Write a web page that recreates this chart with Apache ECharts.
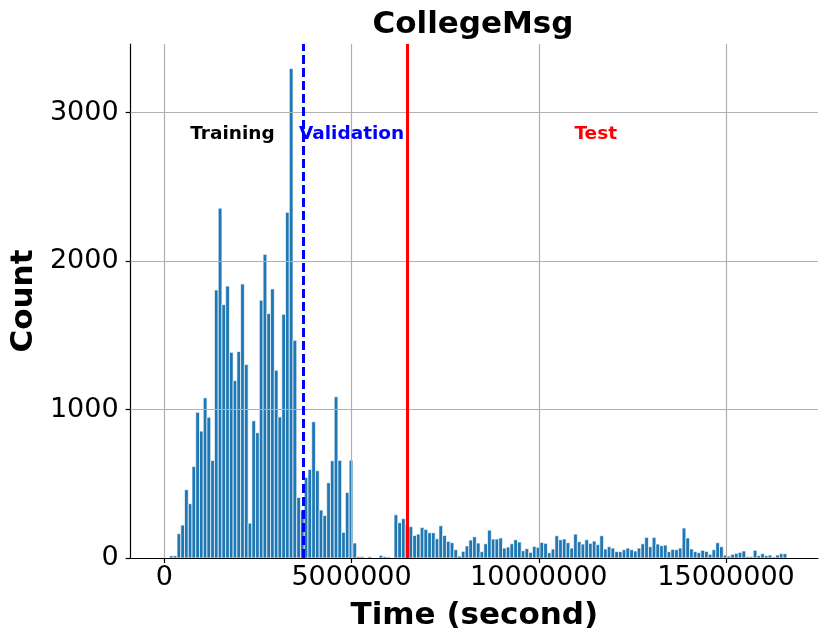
<!DOCTYPE html>
<html>
<head>
<meta charset="utf-8">
<script src="https://cdn.jsdelivr.net/npm/echarts@6/dist/echarts.min.js"></script>
<style>
html,body{margin:0;padding:0;background:#fff;}
#chart{width:830px;height:643px;}
</style>
</head>
<body>
<div id="chart"></div>
<script>
// Histogram bins (seconds)
const binStart = 140000;
const binWidth = 99900;
const counts = [
  15, 15, 164, 222, 460, 366, 617, 982, 855, 1079,
  949, 657, 1806, 2357, 1707, 1832, 1386, 1195, 1391, 1846,
  1303, 235, 924, 844, 1737, 2046, 1647, 1813, 1265, 951,
  1642, 2329, 3298, 1467, 408, 324, 543, 597, 918, 588,
  323, 287, 507, 655, 1086, 658, 173, 441, 658, 101,
  9, 9, 0, 9, 0, 0, 18, 9, 7, 0,
  291, 238, 265, 230, 211, 152, 161, 206, 193, 170,
  170, 130, 217, 152, 112, 103, 56, 13, 45, 81,
  121, 143, 101, 43, 96, 188, 128, 128, 135, 67,
  74, 96, 123, 108, 49, 63, 38, 78, 72, 105,
  99, 36, 61, 150, 123, 128, 103, 67, 161, 110,
  94, 123, 99, 114, 90, 150, 61, 76, 67, 43,
  43, 56, 67, 56, 47, 67, 96, 139, 76, 139,
  94, 83, 87, 43, 58, 56, 67, 202, 135, 61,
  43, 36, 52, 45, 25, 56, 103, 76, 20, 13,
  25, 31, 38, 47, 9, 9, 52, 16, 29, 16,
  20, 7, 20, 29, 29
];
const xTicks = [0, 5000000, 10000000, 15000000];
const yTicks = [0, 1000, 2000, 3000];
const validationStart = 3705000;
const testStart = 6497000;
const annotations = [
  {name: 'Training', x: 1820000, y: 2855, color: '#000000'},
  {name: 'Validation', x: 5000000, y: 2855, color: '#0000ff'},
  {name: 'Test', x: 11520000, y: 2855, color: '#ff0000'}
];
const xMin = -900000, xMax = 17455000, yMax = 3463;

const FONT = 'DejaVu Sans';
const binData = counts.map((c, i) => [binStart + i * binWidth, binStart + (i + 1) * binWidth, c]);

const chart = echarts.init(document.getElementById('chart'));
chart.setOption({
  animation: false,
  backgroundColor: '#ffffff',
  graphic: [{
    type: 'text', x: 473, y: 25, z: 20,
    style: {text: 'CollegeMsg', font: 'bold 31px "DejaVu Sans"', fill: '#000', textAlign: 'center', textVerticalAlign: 'middle'}
  }],
  grid: {left: 128, top: 44, width: 690, height: 514, containLabel: false},
  xAxis: {
    type: 'value', min: xMin, max: xMax, z: 3,
    name: 'Time (second)', nameLocation: 'middle', nameGap: 42,
    nameTextStyle: {fontFamily: FONT, fontWeight: 'bold', fontSize: 31, color: '#000'},
    axisLine: {show: true, onZero: false, lineStyle: {color: '#000', width: 1.2}},
    axisTick: {show: true, customValues: xTicks, length: 5, lineStyle: {color: '#000', width: 1.2}},
    axisLabel: {customValues: xTicks, fontFamily: FONT, fontSize: 27, color: '#000', margin: 6,
      formatter: v => String(v)},
    splitLine: {show: false}
  },
  yAxis: {
    type: 'value', min: 0, max: yMax, z: 3,
    name: 'Count', nameLocation: 'middle', nameGap: 77, nameRotate: 90,
    nameTextStyle: {fontFamily: FONT, fontWeight: 'bold', fontSize: 31, color: '#000'},
    axisLine: {show: true, onZero: false, lineStyle: {color: '#000', width: 1.2}},
    axisTick: {show: true, customValues: yTicks, length: 5, lineStyle: {color: '#000', width: 1.2}},
    axisLabel: {customValues: yTicks, fontFamily: FONT, fontSize: 27, color: '#000', margin: 12,
      formatter: v => String(v)},
    splitLine: {show: false}
  },
  series: [
    {
      type: 'custom', z: 1,
      renderItem: function (params, api) {
        const p0 = api.coord([api.value(0), api.value(2)]);
        const p1 = api.coord([api.value(1), 0]);
        return {
          type: 'rect',
          shape: {x: p0[0], y: p0[1], width: p1[0] - p0[0], height: p1[1] - p0[1]},
          style: {fill: '#1f77b4', stroke: '#ffffff', lineWidth: 0.7}
        };
      },
      encode: {x: [0, 1], y: 2},
      data: binData
    },
    {
      type: 'line', data: [], silent: true,
      markLine: {
        silent: true, symbol: ['none', 'none'], z: 5, animation: false,
        label: {show: false},
        lineStyle: {color: '#b0b0b0', width: 1.2, type: 'solid'},
        data: xTicks.map(v => ({xAxis: v})).concat(yTicks.filter(v => v > 0).map(v => ({yAxis: v})))
      }
    },
    {
      type: 'line', data: [], silent: true,
      markLine: {
        silent: true, symbol: ['none', 'none'], z: 10, animation: false,
        label: {show: false},
        data: [
          {xAxis: validationStart, lineStyle: {color: '#0000ff', width: 3, type: [9, 4]}},
          {xAxis: testStart, lineStyle: {color: '#ff0000', width: 3, type: 'solid'}}
        ]
      }
    },
    {
      type: 'scatter', symbolSize: 0, z: 12, silent: true,
      itemStyle: {opacity: 1},
      data: annotations.map(a => ({
        name: a.name, value: [a.x, a.y],
        label: {color: a.color}
      })),
      label: {show: true, position: 'inside', formatter: p => p.name, opacity: 1,
        fontFamily: FONT, fontWeight: 'bold', fontSize: 18.5}
    }
  ]
});
</script>
</body>
</html>
